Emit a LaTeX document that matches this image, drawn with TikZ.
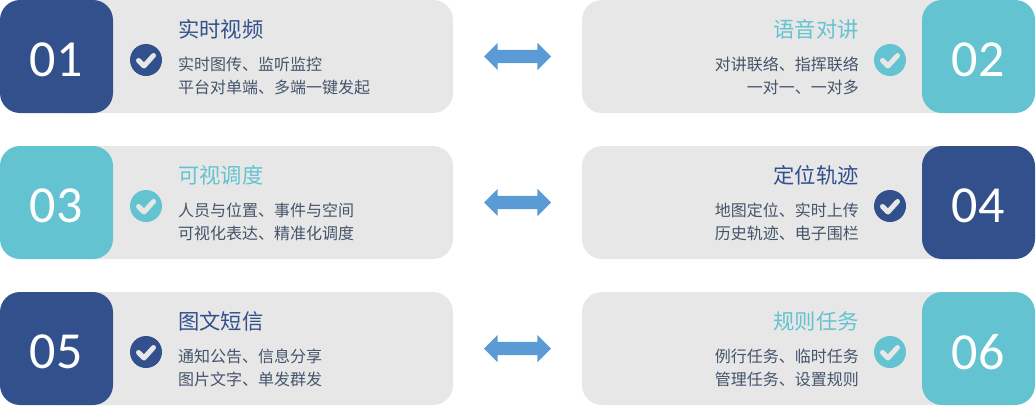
\documentclass[tikz,border=0pt]{standalone}
\usepackage{fontspec}
\setmainfont{Carlito}
\newfontfamily\cjk{Noto Sans CJK SC}
\usetikzlibrary{shapes.arrows}
\definecolor{navy}{HTML}{32508C}
\definecolor{teal2}{HTML}{63C3D0}
\definecolor{panelgrey}{HTML}{E7E7E7}
\definecolor{bodyink}{HTML}{44546A}
\definecolor{arrowblue}{HTML}{5B9BD5}
\tikzset{
 panel/.style={fill=panelgrey,rounded corners=20pt,draw=none},
 numbox/.style={rounded corners=20pt,draw=none},
 numtext/.style={text=white,font=\fontsize{52}{52}\selectfont,inner sep=0pt},
 titletext/.style={font=\cjk\fontsize{21.3}{21.3}\selectfont,inner sep=0pt},
 bodytext/.style={text=bodyink,font=\cjk\fontsize{16}{16}\selectfont,inner sep=0pt},
 tickdisc/.style={circle,minimum size=32pt,inner sep=0pt,draw=none},
 tickmark/.style={draw=panelgrey,line width=5pt,line cap=round,line join=round},
 biarrow/.style={double arrow,fill=arrowblue,draw=none,minimum height=67pt,inner xsep=0pt,inner ysep=6.5pt,double arrow head extend=7pt,double arrow head indent=0pt},
}
% #1 name, #2 top y, #3 number, #4 colour, #5 title, #6 line 1, #7 line 2
\newcommand{\leftcard}[7]{
 \fill[panel] (40,#2) rectangle (453,#2+113);
 \fill[numbox,fill=#4] (0,#2) rectangle (113,#2+113);
 \node[numtext] (#1num) at (56,#2+60) {#3};
 \node[tickdisc,fill=#4] (#1disc) at (146,#2+60) {};
 \draw[tickmark] (138.5,#2+60.5) -- (144,#2+66) -- (153.5,#2+55.5);
 \node[titletext,text=#4,anchor=base west] (#1title) at (178,#2+37) {\strut #5};
 \node[bodytext,anchor=base west] (#1a) at (178,#2+70) {#6};
 \node[bodytext,anchor=base west] (#1b) at (178,#2+93) {#7};
}
\newcommand{\rightcard}[7]{
 \fill[panel] (582,#2) rectangle (990,#2+113);
 \fill[numbox,fill=#4] (922,#2) rectangle (1035,#2+113);
 \node[numtext] (#1num) at (978,#2+60) {#3};
 \node[tickdisc,fill=#4] (#1disc) at (890,#2+60) {};
 \draw[tickmark] (882.5,#2+60.5) -- (888,#2+66) -- (897.5,#2+55.5);
 \node[titletext,text=#4,anchor=base east] (#1title) at (859,#2+37) {\strut #5};
 \node[bodytext,anchor=base east] (#1a) at (859,#2+70) {#6};
 \node[bodytext,anchor=base east] (#1b) at (859,#2+93) {#7};
}
\begin{document}
\begin{tikzpicture}[x=1pt,y=-1pt]
\useasboundingbox (0,0) rectangle (1036,405);
\leftcard{c1}{0}{01}{navy}{实时视频}{实时图传、监听监控}{平台对单端、多端一键发起}
\rightcard{c2}{0}{02}{teal2}{语音对讲}{对讲联络、指挥联络}{一对一、一对多}
\leftcard{c3}{146}{03}{teal2}{可视调度}{人员与位置、事件与空间}{可视化表达、精准化调度}
\rightcard{c4}{146}{04}{navy}{定位轨迹}{地图定位、实时上传}{历史轨迹、电子围栏}
\leftcard{c5}{292}{05}{navy}{图文短信}{通知公告、信息分享}{图片文字、单发群发}
\rightcard{c6}{292}{06}{teal2}{规则任务}{例行任务、临时任务}{管理任务、设置规则}
\node[biarrow] (a1) at (517.5,56.5) {};
\node[biarrow] (a2) at (517.5,202.5) {};
\node[biarrow] (a3) at (517.5,348.5) {};
\end{tikzpicture}
\end{document}
